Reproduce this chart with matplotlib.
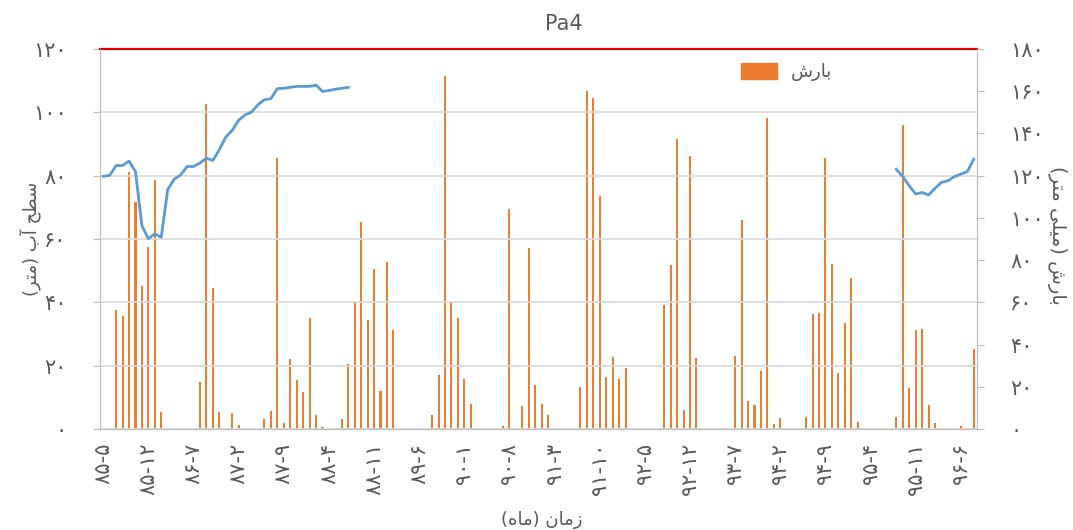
import numpy as np
import matplotlib
matplotlib.use("Agg")
import matplotlib.pyplot as plt
from matplotlib.patches import Patch

# ماه ها: ۸۵-۵ تا ۹۶-۸
start_year = 85
start_month = 5
n_months = 136

# بارش ماهانه (میلی متر)
rain = [
    0, 0, 56.5, 53.4, 121.7, 107.5, 67.9, 86.1, 118.1, 7.9,
    0, 0, 0, 0, 0, 22.3, 154.1, 66.9, 8.2, 0,
    7.4, 1.9, 0, 0, 0, 4.9, 8.4, 128.4, 2.8, 33.2,
    23.4, 17.7, 52.6, 6.6, 0.8, 0, 0, 4.9, 30.8, 60.2,
    97.9, 51.8, 76.0, 18.0, 79.3, 47.1, 0, 0, 0, 0,
    0, 6.6, 25.6, 167.4, 60.2, 52.7, 23.8, 12.0, 0, 0,
    0, 0, 1.4, 104.2, 0, 10.7, 85.6, 21.0, 12.0, 6.6,
    0, 0, 0, 0, 19.7, 160.1, 156.8, 110.2, 24.8, 34.1,
    23.8, 29.1, 0, 0, 0, 0, 0, 58.9, 77.7, 137.2,
    9.2, 129.5, 33.6, 0, 0, 0, 0, 0, 34.4, 99.2,
    13.4, 11.5, 27.3, 147.3, 2.4, 5.4, 0, 0, 0, 5.7,
    54.3, 55.1, 128.4, 78.2, 26.4, 50.4, 71.5, 3.5, 0, 0,
    0, 0, 0, 5.5, 144.2, 19.6, 46.9, 47.4, 11.4, 3.0,
    0, 0, 0, 1.4, 0, 37.7,
]

# سطح آب (متر) - دوره اول و دوره آخر
level_first = [
    79.8, 80.1, 83.2, 83.2, 84.6, 81.3, 64.2, 60.1, 61.6, 60.6,
    75.6, 78.9, 80.2, 82.9, 82.9, 84.0, 85.5, 84.8, 88.2, 92.2,
    94.3, 97.5, 99.2, 100.1, 102.4, 104.0, 104.3, 107.5, 107.6, 107.9,
    108.2, 108.2, 108.2, 108.6, 106.6, 106.9, 107.3, 107.6, 107.9,
]
level_last = [
    82.0, 79.7, 76.8, 74.2, 74.7, 73.9, 76.0, 77.9, 78.4, 79.7,
    80.5, 81.3, 85.2,
]
ground_level = 120

fa_digits = str.maketrans("0123456789", "۰۱۲۳۴۵۶۷۸۹")


def fa(s):
    return str(s).translate(fa_digits)


labels = []
for k in range(n_months):
    m = start_month - 1 + k
    labels.append(fa(f"{start_year + m // 12}-{m % 12 + 1}"))

level = np.full(n_months, np.nan)
level[:len(level_first)] = level_first
level[n_months - len(level_last):] = level_last
x = np.arange(n_months)

plt.rcParams['font.family'] = ['DejaVu Sans']
txt = '#595959'
grey = '#bfbfbf'

fig = plt.figure(figsize=(10.73, 5.30), dpi=100)
ax = fig.add_axes([0.0932, 0.1906, 0.8173, 0.7169])
ax2 = ax.twinx()

# بارش روی محور دوم (راست)
ax2.bar(x, rain, width=0.32, color='#ed7d31', linewidth=0)
ax2.set_ylim(0, 180)
ax2.set_yticks(range(0, 181, 20))
ax2.set_yticklabels([fa(v) for v in range(0, 181, 20)])

# سطح آب روی محور اصلی (چپ)
ax.set_zorder(ax2.get_zorder() + 1)
ax.patch.set_visible(False)
ax.plot(x, level, color='#5b9bd5', lw=2.0)
ax.axhline(ground_level, color='#e00000', lw=1.6, clip_on=False)
ax.set_ylim(0, 120)
ax.set_xlim(-0.5, n_months - 0.5)
ax.set_yticks(range(0, 121, 20))
ax.set_yticklabels([fa(v) for v in range(0, 121, 20)])
ax.grid(axis='y', color='#d9d9d9', lw=1.2)
ax.set_axisbelow(True)

ticks = list(range(0, n_months, 7))
ax.set_xticks(ticks)
ax.set_xticklabels([labels[t] for t in ticks], rotation=90)

for a in (ax, ax2):
    for side in ('left', 'right', 'bottom'):
        a.spines[side].set_color(grey)
    a.spines['top'].set_visible(False)
ax.tick_params(axis='y', colors=txt, labelsize=15, length=5, color=grey, pad=19)
ax2.tick_params(axis='y', colors=txt, labelsize=15, length=5, color=grey, pad=19)
ax.tick_params(axis='x', colors=txt, labelsize=15, length=0, pad=10)

# متن ها (شکل های نمایشی حروف، ترتیب دیداری)
ylab_left = "(\uFEAE\uFE98\uFEE3) \uFE8F\uFE81 \uFEA2\uFEC4\uFEB3"
ylab_right = "(\uFEAE\uFE98\uFEE3 \uFEF0\uFEE0\uFEF4\uFEE3) \uFEB5\uFEAD\uFE8E\uFE91"
xlab = "(\uFEE9\uFE8E\uFEE3) \uFEE5\uFE8E\uFEE3\uFEAF"
rain_name = "\uFEB5\uFEAD\uFE8E\uFE91"

fig.text(0.028, 0.55, ylab_left, rotation=90, ha='center', va='center',
         fontsize=13, color=txt)
fig.text(0.985, 0.555, ylab_right, rotation=270, ha='center', va='center',
         fontsize=14, color=txt)
fig.text(0.505, 0.018, xlab, ha='center', va='center', fontsize=13, color=txt)
fig.text(0.525, 0.955, "Pa4", ha='center', va='center', fontsize=15, color=txt)

fig.legend(handles=[Patch(color='#ed7d31')], labels=[rain_name],
           loc='center', bbox_to_anchor=(0.733, 0.864), frameon=False,
           fontsize=13, handlelength=2.0, handleheight=1.0, labelcolor=txt)

fig.savefig("out.png", dpi=100)
